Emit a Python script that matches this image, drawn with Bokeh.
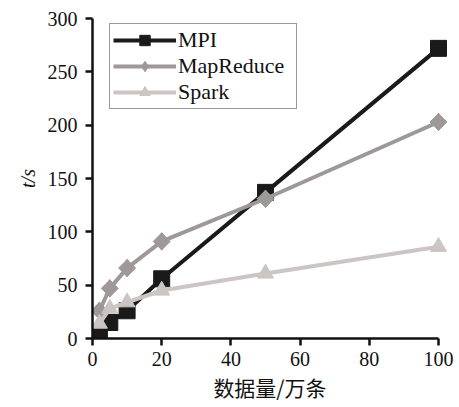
import numpy as np
from bokeh.plotting import figure
from bokeh.models import Range1d, FixedTicker, Legend, LegendItem
from bokeh.embed import file_html
from bokeh.resources import INLINE

# ---- data ----
data_size = [2, 5, 10, 20, 50, 100]
mpi = [5, 15, 26, 56, 137, 272]
mapreduce = [26, 47, 66, 91, 131, 203]
spark = [14, 28, 34, 45, 61, 86]
series_names = ["MPI", "MapReduce", "Spark"]
x_ticks = [0, 20, 40, 60, 80, 100]
y_ticks = [0, 50, 100, 150, 200, 250, 300]
x_title = "数据量/万条"
y_title = "t/s"

SERIF = "'Liberation Serif', 'Times New Roman', serif"
CJK = "'Noto Sans CJK SC'"

p = figure(frame_width=355, frame_height=320,
           x_range=Range1d(0, 102.6), y_range=Range1d(0, 300),
           output_backend="svg", toolbar_location=None,
           min_border_left=92, min_border_right=8,
           min_border_top=18, min_border_bottom=65)
p.background_fill_color = "white"
p.border_fill_color = "white"
p.outline_line_color = None
p.xgrid.visible = False
p.ygrid.visible = False

for ax in (p.xaxis[0], p.yaxis[0]):
    ax.axis_line_width = 2.5
    ax.axis_line_color = "#111111"
    ax.major_tick_line_width = 2.5
    ax.major_tick_line_color = "#111111"
    ax.major_tick_in = 0
    ax.major_tick_out = 7
    ax.minor_tick_line_color = None
    ax.major_label_text_font = SERIF
    ax.major_label_text_font_size = "20px"
    ax.major_label_text_color = "#111111"

p.xaxis[0].ticker = FixedTicker(ticks=x_ticks)
p.xaxis[0].bounds = (0, 100)
p.xaxis[0].major_label_standoff = 6
p.xaxis[0].axis_label = x_title
p.xaxis[0].axis_label_text_font = CJK
p.xaxis[0].axis_label_text_font_size = "21px"
p.xaxis[0].axis_label_text_font_style = "normal"
p.xaxis[0].axis_label_text_color = "#111111"
p.xaxis[0].axis_label_standoff = 3

p.yaxis[0].ticker = FixedTicker(ticks=y_ticks)
p.yaxis[0].major_label_standoff = 8
p.yaxis[0].axis_label = y_title
p.yaxis[0].axis_label_text_font = SERIF
p.yaxis[0].axis_label_text_font_size = "20px"
p.yaxis[0].axis_label_text_font_style = "italic"
p.yaxis[0].axis_label_text_color = "#111111"
p.yaxis[0].axis_label_standoff = 6

colors = ["#1a1a1a", "#9f9899", "#cbc5c3"]
series = [mpi, mapreduce, spark]
items = []
for name, ys, col in zip(series_names, series, colors):
    ln = p.line(data_size, ys, line_color=col, line_width=4)
    if name == "MPI":
        mk = p.scatter(data_size, ys, marker="square", size=16,
                       fill_color=col, line_color=col)
        items.append(LegendItem(label=name, renderers=[ln, mk]))
    elif name == "MapReduce":
        dm = p.scatter(data_size, ys, marker="diamond", size=17.5,
                       fill_color=col, line_color=col)
        p.scatter(data_size, ys, marker="square", size=12, angle=np.pi / 4,
                  fill_color=col, line_color=col)
        items.append(LegendItem(label=name, renderers=[ln, dm]))
    else:
        mk = p.scatter(data_size, ys, marker="triangle", size=16,
                       fill_color=col, line_color=col)
        items.append(LegendItem(label=name, renderers=[ln, mk]))

legend = Legend(items=items, location=(17, 229))
legend.label_text_font = SERIF
legend.label_text_font_size = "22px"
legend.label_text_color = "#111111"
legend.glyph_width = 63
legend.glyph_height = 26
legend.label_height = 26
legend.label_width = 115
legend.label_standoff = 2
legend.spacing = 0
legend.padding = 3
legend.border_line_color = "#333333"
legend.border_line_width = 1.2
legend.background_fill_alpha = 1
p.add_layout(legend, "center")

open("out.html", "w").write(file_html(p, INLINE))
